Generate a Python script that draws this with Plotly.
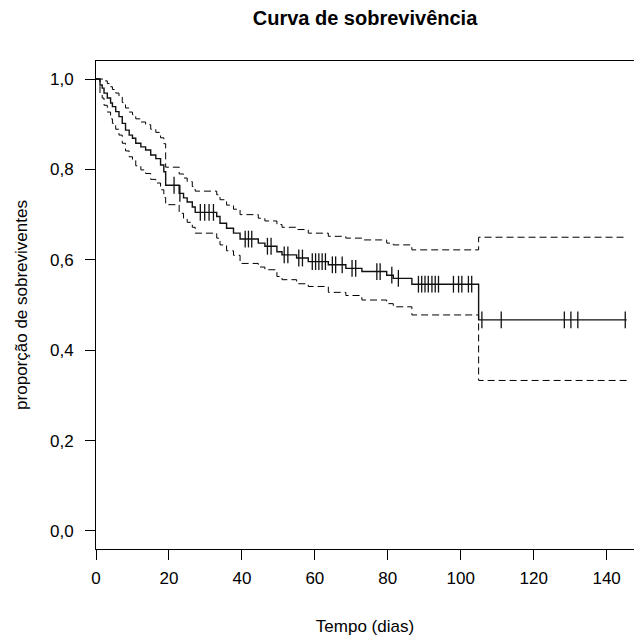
import numpy as np
import plotly.graph_objects as go

# Kaplan-Meier estimate (event times and survival just after each step)
event_times = [0.0, 1.1, 1.7, 2.2, 3.1, 4.0, 4.5, 5.4, 6.3, 7.2, 8.1, 9.1, 10.0, 10.9,
               12.3, 13.6, 15.0, 16.4, 17.7, 18.6, 19.1, 22.8, 24.0, 25.0, 26.4, 27.2,
               33.1, 34.0, 35.8, 37.7, 39.5, 44.5, 46.3, 49.6, 51.0, 55.0, 58.2, 63.7,
               68.5, 72.9, 79.7, 81.5, 86.6, 104.9]
survival = [1.000, 0.987, 0.980, 0.969, 0.958, 0.947, 0.939, 0.928, 0.917, 0.902, 0.887,
            0.876, 0.869, 0.858, 0.850, 0.843, 0.832, 0.824, 0.810, 0.795, 0.765, 0.747,
            0.737, 0.728, 0.717, 0.705, 0.696, 0.681, 0.670, 0.659, 0.646, 0.637, 0.630,
            0.618, 0.611, 0.604, 0.596, 0.589, 0.581, 0.574, 0.566, 0.559, 0.546, 0.467]
upper_ci = [1.000, 1.000, 1.000, 0.996, 0.990, 0.983, 0.977, 0.969, 0.960, 0.948, 0.936,
            0.927, 0.921, 0.912, 0.905, 0.899, 0.889, 0.882, 0.870, 0.857, 0.805, 0.790,
            0.781, 0.773, 0.762, 0.752, 0.744, 0.733, 0.721, 0.712, 0.700, 0.692, 0.686,
            0.678, 0.672, 0.667, 0.659, 0.652, 0.648, 0.644, 0.637, 0.633, 0.622, 0.650]
lower_ci = [1.000, 0.969, 0.958, 0.942, 0.927, 0.912, 0.902, 0.889, 0.876, 0.858, 0.841,
            0.828, 0.820, 0.808, 0.799, 0.791, 0.778, 0.770, 0.755, 0.738, 0.722, 0.703,
            0.692, 0.683, 0.672, 0.659, 0.648, 0.633, 0.620, 0.610, 0.592, 0.584, 0.578,
            0.563, 0.556, 0.547, 0.541, 0.528, 0.521, 0.511, 0.503, 0.496, 0.478, 0.333]
end_time = 145.5

# censored observations
censor_times = [21.4, 23.0, 28.6, 29.8, 31.0, 32.2, 40.9, 41.8, 42.7, 47.0, 48.0, 51.6,
                52.6, 55.6, 56.6, 59.3, 60.2, 61.1, 62.0, 62.9, 64.8, 65.7, 67.5, 70.2,
                71.2, 77.0, 77.9, 81.1, 82.9, 88.4, 89.3, 90.2, 91.1, 92.1, 93.0, 93.9,
                98.0, 99.4, 100.3, 102.1, 103.0, 105.8, 111.1, 128.4, 130.2, 132.1, 145.1]

x_ticks = [0, 20, 40, 60, 80, 100, 120, 140]
y_ticks = [0.0, 0.2, 0.4, 0.6, 0.8, 1.0]

FONT = "Liberation Sans, Arial, Helvetica, sans-serif"

xs = event_times + [end_time]
def ext(v):
    return v + [v[-1]]

idx = np.searchsorted(np.array(event_times), np.array(censor_times), side="right") - 1
censor_surv = [survival[i] for i in idx]

fig = go.Figure()
for vals in (upper_ci, lower_ci):
    fig.add_trace(go.Scatter(x=xs, y=ext(vals), mode="lines", line_shape="hv",
                             line=dict(color="black", width=1, dash="7px,4px"),
                             hoverinfo="skip", showlegend=False))
fig.add_trace(go.Scatter(x=xs, y=ext(survival), mode="lines", line_shape="hv",
                         line=dict(color="#111111", width=1.4), showlegend=False))
fig.add_trace(go.Scatter(x=censor_times, y=censor_surv, mode="markers",
                         marker=dict(symbol="line-ns", size=12,
                                     line=dict(color="#111111", width=1.3)),
                         showlegend=False))

fig.update_layout(
    width=634, height=639,
    margin=dict(l=96, r=0, t=61, b=90),
    paper_bgcolor="white", plot_bgcolor="white",
    separators=",.",
    font=dict(family=FONT, size=17, color="black"),
    title=dict(text="Curva de sobrevivência", x=365/634, xanchor="center",
               y=1 - 18/639, yanchor="middle",
               font=dict(family=FONT, size=20, weight="bold", color="black")),
    xaxis=dict(range=[0, 147.5], tickvals=x_ticks, showgrid=False, zeroline=False,
               showline=True, linecolor="black", linewidth=1, mirror=True,
               ticks="outside", ticklen=10, tickcolor="black", tickwidth=1,
               ticklabelstandoff=4,
               title=dict(text="Tempo (dias)", standoff=32,
                          font=dict(family=FONT, size=17))),
    yaxis=dict(range=[-0.04, 1.04], tickvals=y_ticks, tickformat=".1f",
               showgrid=False, zeroline=False,
               showline=True, linecolor="black", linewidth=1, mirror=False,
               ticks="outside", ticklen=10, tickcolor="black", tickwidth=1,
               ticklabelstandoff=8,
               title=dict(text="proporção de sobreviventes", standoff=18,
                          font=dict(family=FONT, size=17))),
)

fig.write_html("out.html")
